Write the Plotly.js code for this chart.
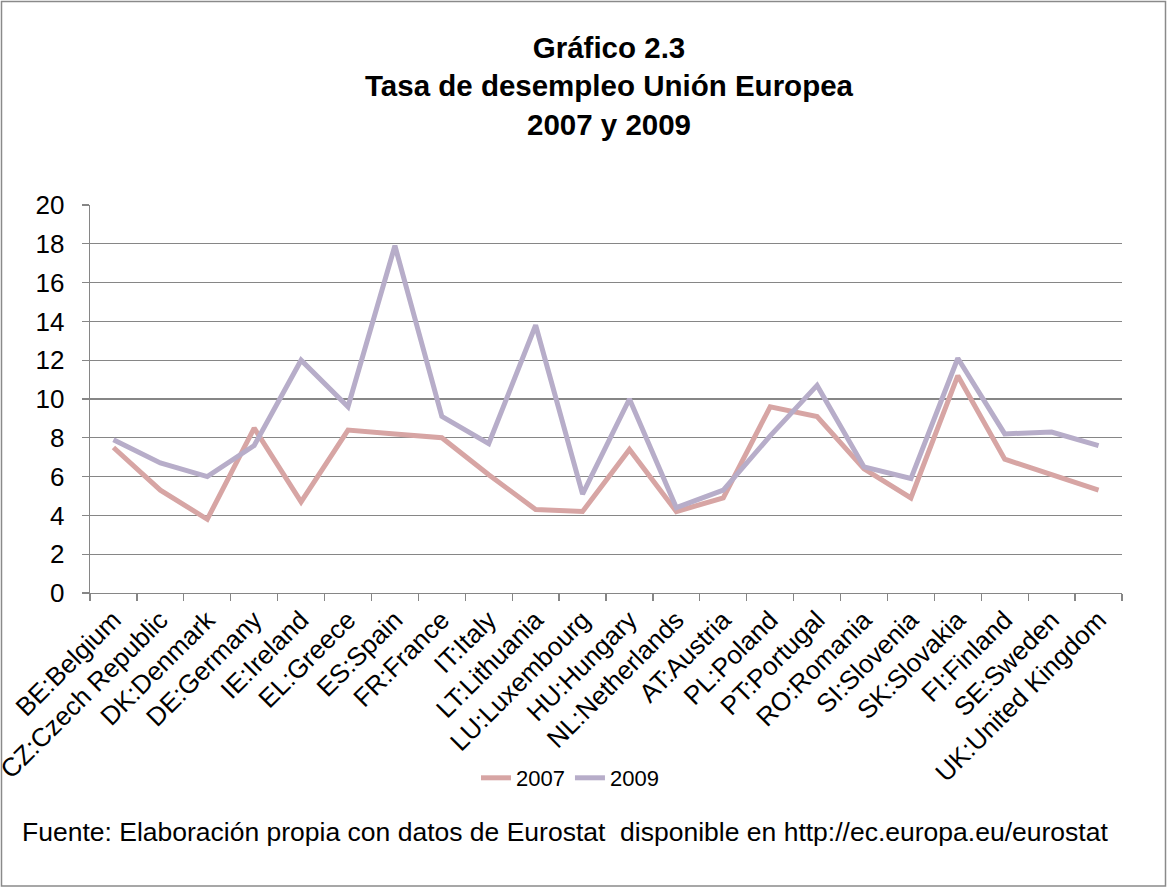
<!DOCTYPE html>
<html>
<head>
<meta charset="utf-8">
<script src="https://cdn.plot.ly/plotly-3.0.1.min.js"></script>
<style>
  html, body { margin: 0; padding: 0; background: #fff; }
  #chart { width: 1167px; height: 888px; }
</style>
</head>
<body>
<div id="chart"></div>
<script>
const countries = [
  "BE:Belgium", "CZ:Czech Republic", "DK:Denmark", "DE:Germany", "IE:Ireland",
  "EL:Greece", "ES:Spain", "FR:France", "IT:Italy", "LT:Lithuania",
  "LU:Luxembourg", "HU:Hungary", "NL:Netherlands", "AT:Austria", "PL:Poland",
  "PT:Portugal", "RO:Romania", "SI:Slovenia", "SK:Slovakia", "FI:Finland",
  "SE:Sweden", "UK:United Kingdom"
];
const rate2007 = [7.5, 5.3, 3.8, 8.5, 4.7, 8.4, 8.2, 8.0, 6.1, 4.3, 4.2, 7.4, 4.2, 4.9, 9.6, 9.1, 6.4, 4.9, 11.2, 6.9, 6.1, 5.3];
const rate2009 = [7.9, 6.7, 6.0, 7.6, 12.0, 9.6, 17.9, 9.1, 7.7, 13.8, 5.1, 10.0, 4.4, 5.3, 8.1, 10.7, 6.5, 5.9, 12.1, 8.2, 8.3, 7.6];
const seriesNames = ["2007", "2009"];
const titleText = "<b>Gráfico 2.3<br>Tasa de desempleo Unión Europea<br>2007 y 2009</b>";
const sourceText = "Fuente: Elaboración propia con datos de Eurostat  disponible en http://ec.europa.eu/eurostat";

const W = 1167, H = 888;
const M = { l: 90, r: 45, t: 205, b: 295 };
const pw = W - M.l - M.r, ph = H - M.t - M.b;
const px = x => (x - M.l) / pw;
const py = y => (H - M.b - y) / ph;

const font = "Liberation Sans, Arial, sans-serif";
const gridCol = "#868686";

const traces = [
  { x: countries, y: rate2007, name: seriesNames[0], type: "scatter", mode: "lines",
    line: { color: "#D7A5A4", width: 5 } },
  { x: countries, y: rate2009, name: seriesNames[1], type: "scatter", mode: "lines",
    line: { color: "#B7ADC9", width: 5 } }
];

const layout = {
  width: W, height: H,
  margin: M,
  paper_bgcolor: "#fff", plot_bgcolor: "#fff",
  font: { family: font, color: "#000" },
  showlegend: true,
  title: {
    text: titleText,
    font: { family: font, size: 29.5, color: "#000" },
    x: px(609), xanchor: "center", xref: "paper",
    y: 1 - 58 / H, yanchor: "top", yref: "container"
  },
  xaxis: {
    type: "category",
    range: [-0.5, countries.length - 0.5],
    tickson: "boundaries",
    ticks: "outside", ticklen: 7, tickcolor: gridCol, tickwidth: 1.3,
    showline: true, linecolor: gridCol, linewidth: 1.3,
    showgrid: false, zeroline: false,
    tickangle: -45,
    tickfont: { family: font, size: 26, color: "#000" }
  },
  yaxis: {
    range: [0, 20], dtick: 2, tick0: 0,
    ticks: "outside", ticklen: 7, tickcolor: gridCol, tickwidth: 1.3,
    showline: true, linecolor: gridCol, linewidth: 1.3,
    showgrid: true, gridcolor: gridCol, gridwidth: 1.3,
    zeroline: false,
    ticklabelstandoff: 12,
    tickfont: { family: font, size: 26, color: "#000" }
  },
  legend: {
    orientation: "h",
    x: px(570), xanchor: "center",
    y: py(778), yanchor: "middle",
    font: { family: font, size: 22, color: "#000" },
    bgcolor: "rgba(0,0,0,0)"
  },
  annotations: [{
    text: sourceText, showarrow: false,
    xref: "paper", yref: "paper",
    x: px(20), xanchor: "left",
    y: py(832), yanchor: "middle",
    font: { family: font, size: 26.5, color: "#000" }
  }],
  shapes: [{
    type: "rect", xref: "paper", yref: "paper",
    x0: px(1.5), x1: px(1165.5), y0: py(886), y1: py(1.5),
    line: { color: "#8a8a8a", width: 1.5 }, fillcolor: "rgba(0,0,0,0)", layer: "below"
  }]
};

Plotly.newPlot("chart", traces, layout, { staticPlot: true, displayModeBar: false });
</script>
</body>
</html>
